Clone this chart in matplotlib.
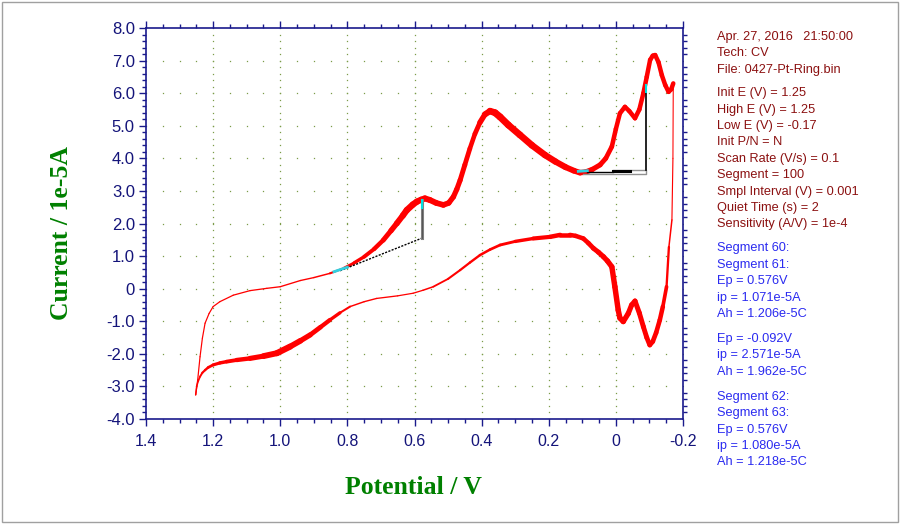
import numpy as np
import matplotlib
matplotlib.use("Agg")
import matplotlib.pyplot as plt
from matplotlib.collections import LineCollection
from matplotlib.patches import Rectangle

# Negative-going scan (1.25 V -> -0.17 V), current in 1e-5 A
neg_v = [1.252, 1.246, 1.239, 1.232, 1.224, 1.212, 1.200, 1.180, 1.140, 1.090,
         1.040, 1.000, 0.940, 0.900, 0.852, 0.810, 0.780, 0.750, 0.720, 0.693,
         0.670, 0.653, 0.635, 0.623, 0.605, 0.593, 0.580, 0.569, 0.554, 0.535,
         0.514, 0.498, 0.484, 0.474, 0.464, 0.450, 0.435, 0.420, 0.405, 0.390,
         0.375, 0.360, 0.345, 0.320, 0.286, 0.250, 0.211, 0.180, 0.150, 0.125,
         0.107, 0.090, 0.070, 0.047, 0.030, 0.012, 0.000, -0.012, -0.027, -0.040,
         -0.057, -0.070, -0.082, -0.092, -0.102, -0.110, -0.117, -0.127, -0.137, -0.147,
         -0.157, -0.165, -0.171]
neg_i = [-3.26, -2.80, -2.09, -1.52, -1.06, -0.76, -0.55, -0.40, -0.20, -0.06,
         0.01, 0.06, 0.25, 0.34, 0.47, 0.63, 0.79, 0.98, 1.22, 1.49,
         1.78, 2.00, 2.24, 2.41, 2.58, 2.67, 2.73, 2.77, 2.72, 2.63,
         2.57, 2.63, 2.82, 3.05, 3.33, 3.80, 4.30, 4.75, 5.10, 5.35,
         5.45, 5.40, 5.27, 5.02, 4.72, 4.40, 4.10, 3.90, 3.73, 3.62,
         3.56, 3.58, 3.66, 3.80, 4.00, 4.36, 4.90, 5.38, 5.58, 5.45,
         5.23, 5.50, 6.00, 6.50, 7.02, 7.15, 7.17, 6.95, 6.55, 6.25,
         6.04, 6.12, 6.30]

# Positive-going scan (-0.17 V -> 1.25 V)
pos_v = [-0.171, -0.170, -0.167, -0.158, -0.151, -0.140, -0.131, -0.120, -0.110, -0.101,
         -0.092, -0.082, -0.070, -0.057, -0.047, -0.037, -0.022, -0.012, -0.007, 0.003,
         0.012, 0.025, 0.037, 0.052, 0.067, 0.082, 0.097, 0.120, 0.137, 0.166,
         0.196, 0.246, 0.300, 0.345, 0.375, 0.405, 0.435, 0.464, 0.500, 0.544,
         0.575, 0.604, 0.650, 0.713, 0.750, 0.792, 0.822, 0.852, 0.880, 0.911,
         0.940, 0.971, 1.010, 1.050, 1.090, 1.130, 1.160, 1.180, 1.200, 1.215,
         1.224, 1.232, 1.239, 1.245, 1.249, 1.252]
pos_i = [6.30, 4.00, 2.11, 1.28, 0.06, -0.55, -0.96, -1.35, -1.62, -1.73,
         -1.50, -1.17, -0.75, -0.38, -0.50, -0.76, -1.01, -0.90, -0.66, 0.06,
         0.67, 0.85, 0.98, 1.12, 1.24, 1.40, 1.54, 1.62, 1.65, 1.65,
         1.59, 1.54, 1.45, 1.34, 1.20, 1.03, 0.80, 0.57, 0.30, 0.06,
         -0.05, -0.14, -0.22, -0.30, -0.40, -0.55, -0.74, -0.96, -1.18, -1.42,
         -1.60, -1.78, -1.98, -2.07, -2.14, -2.19, -2.24, -2.28, -2.34, -2.42,
         -2.50, -2.58, -2.70, -2.85, -3.00, -3.26]

# Peak baselines from the analysis (V, current)
peak1_base_v = [0.822, 0.578]
peak1_base_i = [0.55, 1.55]
peak1_top_i = 2.72
peak2_base_v = [0.098, -0.091]
peak2_base_i = [3.51, 3.64]
peak2_top_i = 6.25

x_ticks = [1.4, 1.2, 1.0, 0.8, 0.6, 0.4, 0.2, 0, -0.2]
x_labels = ["1.4", "1.2", "1.0", "0.8", "0.6", "0.4", "0.2", "0", "-0.2"]
y_ticks = [8, 7, 6, 5, 4, 3, 2, 1, 0, -1, -2, -3, -4]
y_labels = ["8.0", "7.0", "6.0", "5.0", "4.0", "3.0", "2.0", "1.0", "0",
            "-1.0", "-2.0", "-3.0", "-4.0"]

info_lines = ["Apr. 27, 2016   21:50:00", "Tech: CV", "File: 0427-Pt-Ring.bin", None,
              "Init E (V) = 1.25", "High E (V) = 1.25", "Low E (V) = -0.17",
              "Init P/N = N", "Scan Rate (V/s) = 0.1", "Segment = 100",
              "Smpl Interval (V) = 0.001", "Quiet Time (s) = 2",
              "Sensitivity (A/V) = 1e-4"]
result_lines = ["Segment 60:", "Segment 61:", "Ep = 0.576V", "ip = 1.071e-5A",
                "Ah = 1.206e-5C", None, "Ep = -0.092V", "ip = 2.571e-5A",
                "Ah = 1.962e-5C", None, "Segment 62:", "Segment 63:",
                "Ep = 0.576V", "ip = 1.080e-5A", "Ah = 1.218e-5C"]

navy = "#14147a"
grid_col = "#7c9c48"

fig = plt.figure(figsize=(9, 5.25), dpi=100)
W, H = 900, 525
ax = fig.add_axes([146 / W, 1 - 419 / H, (683 - 146) / W, (419 - 28) / H])
ax.set_xlim(1.4, -0.2)
ax.set_ylim(-4, 8)

# dotted grid: dots at minor steps along major lines
gx = np.arange(-0.2, 1.4001, 0.05)
gy = np.arange(-4, 8.001, 0.2)
for xv in [1.2, 1.0, 0.8, 0.6, 0.4, 0.2, 0.0]:
    ax.plot(np.full(len(gy), xv), gy, ls="none", marker="s", ms=0.9,
            mec="none", mfc=grid_col, zorder=1)
for yv in [7, 6, 5, 4, 3, 2, 1, 0, -1, -2, -3]:
    ax.plot(gx, np.full(len(gx), yv), ls="none", marker="s", ms=0.9,
            mec="none", mfc=grid_col, zorder=1)


def band_line(v, i, wv, ww):
    # red curve whose width follows the spread of the overlapping cycles
    pts = np.column_stack([v, i])
    segs = np.stack([pts[:-1], pts[1:]], axis=1)
    w = np.interp(v, wv, ww)
    lw = 0.5 * (w[:-1] + w[1:]) * 0.72
    lc = LineCollection(segs, colors="#ff0000", linewidths=lw,
                        capstyle="round", joinstyle="round", zorder=3)
    ax.add_collection(lc)


band_line(neg_v, neg_i,
          [-0.17, 0.0, 0.1, 0.2, 0.36, 0.42, 0.5, 0.62, 0.7, 0.8, 0.86, 1.26],
          [4.5, 4.5, 5.5, 6.5, 7, 4.5, 5.5, 6.5, 4.5, 2.8, 1.4, 1.2])
band_line(pos_v, pos_i,
          [-0.172, -0.16, -0.14, 0.0, 0.1, 0.2, 0.3, 0.5, 0.6, 0.8, 0.85, 1.0, 1.1, 1.2, 1.26],
          [1.0, 1.5, 4.5, 5.5, 4.5, 4.5, 3, 2, 1.2, 1.5, 4, 6.5, 4.5, 3, 1.2])

# peak 1 baseline and peak marker
ax.plot(peak1_base_v, peak1_base_i, color="black", lw=1, ls=(0, (1.5, 1)), zorder=4)
ax.plot([peak1_base_v[1]] * 2, [peak1_base_i[1], peak1_top_i], color="#808080", lw=2.2, zorder=4)
ax.plot([peak1_base_v[1]] * 2, [peak1_base_i[1], peak1_top_i], color="#505050", lw=0.6, zorder=4)
ax.plot([peak1_base_v[1]] * 2, [peak1_top_i - 0.25, peak1_top_i], color="#00e0e0", lw=1.5, zorder=5)
ax.plot([0.84, 0.80], [0.52, 0.66], color="#30d0e0", lw=2, zorder=5)

# peak 2 baseline and peak marker
bx0, bx1 = peak2_base_v
by0, by1 = peak2_base_i
ax.plot([bx0, bx1, bx1, 0.008], [by0, by0, by1, by1], color="#909090", lw=1, zorder=4)
ax.plot([0.085, 0.008], [3.57, 3.57], color="black", lw=1, zorder=4)
ax.plot([0.008, -0.043], [3.61, 3.61], color="black", lw=2.2, zorder=4)
ax.plot([bx1, bx1], [by1, peak2_top_i], color="black", lw=1.2, zorder=4)
ax.plot([bx1, bx1], [peak2_top_i - 0.2, peak2_top_i], color="#00e0e0", lw=1.5, zorder=5)
ax.plot([0.112, 0.085], [3.60, 3.62], color="#30d0e0", lw=2, zorder=5)

# axes, ticks on all four sides pointing outwards
for s in ax.spines.values():
    s.set_color("#1a1a8c")
    s.set_linewidth(1.2)
ax.set_xticks(x_ticks)
ax.set_xticklabels(x_labels)
ax.set_yticks(y_ticks)
ax.set_yticklabels(y_labels)
ax.set_xticks(np.arange(-0.2, 1.4001, 0.05), minor=True)
ax.set_yticks(np.arange(-4, 8.001, 0.2), minor=True)
ax.tick_params(which="both", direction="out", colors="#1a1a8c", width=1,
               top=True, right=True, labelcolor=navy)
ax.tick_params(which="major", length=5)
ax.tick_params(which="minor", length=3)
ax.tick_params(axis="x", which="major", pad=6, labelsize=11.5)
ax.tick_params(axis="y", which="major", pad=3, labelsize=12)
ax.tick_params(axis="y", which="major", right=False)
for lab in ax.get_xticklabels() + ax.get_yticklabels():
    lab.set_family("Liberation Sans")

# axis titles
fig.text(413 / W, 1 - 487 / H, "Potential / V", color="#008000", fontsize=18.5,
         family="Liberation Serif", weight="bold", ha="center", va="center")
fig.text(61 / W, 1 - 233 / H, "Current / 1e-5A", color="#008000", fontsize=18.5,
         family="Liberation Serif", weight="bold", ha="center", va="center",
         rotation=90)

# info panel on the right
y = 40
for line in info_lines:
    if line is None:
        y += 7
        continue
    fig.text(717 / W, 1 - y / H, line, color="#8b1010", fontsize=9.2,
             family="Liberation Sans", va="baseline")
    y += 16.4
y = 251.5
for line in result_lines:
    if line is None:
        y += 8.6
        continue
    fig.text(717 / W, 1 - y / H, line, color="#2a2af0", fontsize=9.2,
             family="Liberation Sans", va="baseline")
    y += 16.4

# thin grey frame round the picture
fig.patches.append(Rectangle((1.5 / W, 3 / H), 896 / W, 520.5 / H, transform=fig.transFigure,
                             fill=False, edgecolor="#a0a0a0", lw=1))

plt.savefig("out.png", dpi=100)
